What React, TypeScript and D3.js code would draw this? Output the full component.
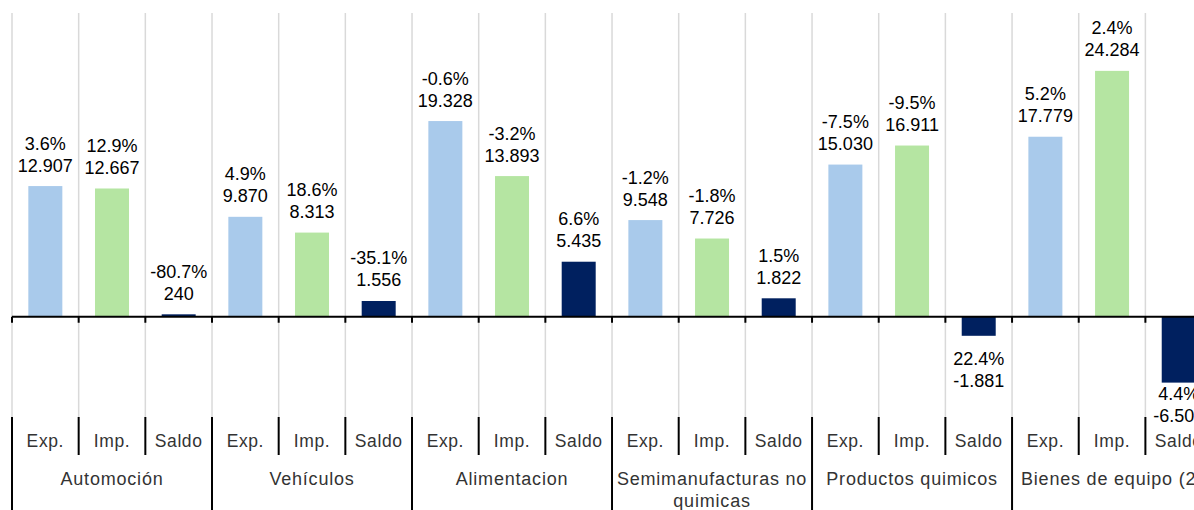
import * as d3 from 'd3';

const groups = [
    ['Automoción'],
    ['Vehículos'],
    ['Alimentacion'],
    ['Semimanufacturas no', 'quimicas'],
    ['Productos quimicos'],
    ['Bienes de equipo (2)'],
];
const subLabels = ['Exp.', 'Imp.', 'Saldo'];

const exportValues = [12907, 9870, 19328, 9548, 15030, 17779];
const importValues = [12667, 8313, 13893, 7726, 16911, 24284];
const saldoValues = [240, 1556, 5435, 1822, -1881, -6505];

const exportChange = [3.6, 4.9, -0.6, -1.2, -7.5, 5.2];
const importChange = [12.9, 18.6, -3.2, -1.8, -9.5, 2.4];
const saldoChange = [-80.7, -35.1, 6.6, 1.5, 22.4, 4.4];

const colors = ['#a9caeb', '#b5e5a2', '#00205f'];

const width = 1194;
const height = 510;
const left = 12;
const slotCount = groups.length * 3;
const slotWidth = 66.67;

const locale = d3.formatLocale({
    decimal: ',',
    thousands: '.',
    grouping: [3],
    currency: ['', '€'],
    minus: '-',
});
const fmtValue = locale.format(',d');

type Bar = { idx: number; value: number; change: number; series: number };

const bars: Bar[] = groups.flatMap((_, g) => [
    { idx: g * 3, value: exportValues[g], change: exportChange[g], series: 0 },
    { idx: g * 3 + 1, value: importValues[g], change: importChange[g], series: 1 },
    { idx: g * 3 + 2, value: saldoValues[g], change: saldoChange[g], series: 2 },
]);

export default function App() {
    const x = d3
        .scaleBand<number>()
        .domain(d3.range(slotCount))
        .range([left, left + slotWidth * slotCount])
        .padding(0);
    const y = d3.scaleLinear().domain([-10000, 30000]).range([418, 13]);
    const barW = x.bandwidth() * 0.51;
    const zero = y(0);
    const plotBottom = 418;

    const boundaries = d3.range(slotCount + 1).map((i) => left + i * x.bandwidth());
    const labelFont = "'Liberation Sans', Arial, sans-serif";

    return (
        <svg
            width={width}
            height={height}
            style={{ position: 'absolute', left: 0, top: 0, background: '#fff', overflow: 'hidden' }}
        >
            {/* grid */}
            {boundaries.map((bx, i) => (
                <line key={'g' + i} x1={bx} x2={bx} y1={13} y2={plotBottom} stroke="#d9d9d9" strokeWidth={1.5} />
            ))}

            {/* bars */}
            {bars.map((b) => {
                const cx = (x(b.idx) ?? 0) + x.bandwidth() / 2;
                const top = Math.min(y(b.value), zero);
                const h = Math.abs(y(b.value) - zero);
                return (
                    <rect
                        key={'b' + b.idx}
                        x={cx - barW / 2}
                        y={top}
                        width={barW}
                        height={Math.max(h, 1.5)}
                        fill={colors[b.series]}
                    />
                );
            })}

            {/* zero axis */}
            <line x1={left} x2={width + 20} y1={zero} y2={zero} stroke="#000" strokeWidth={2} />
            {boundaries.map((bx, i) => (
                <line key={'t' + i} x1={bx} x2={bx} y1={zero} y2={zero + 6} stroke="#000" strokeWidth={2} />
            ))}

            {/* data labels */}
            {bars.map((b) => {
                const cx = (x(b.idx) ?? 0) + x.bandwidth() / 2;
                let y1: number;
                let y2: number;
                if (b.value >= 0) {
                    y2 = y(b.value) - 14.5;
                    y1 = y2 - 22;
                } else {
                    y1 = y(b.value) + 29.5;
                    y2 = y1 + 22;
                    if (y2 > 421.5) {
                        y2 = 421.5;
                        y1 = y2 - 22;
                    }
                }
                return (
                    <g key={'l' + b.idx} fontFamily={labelFont} fontSize={18} fill="#000" textAnchor="middle">
                        <text x={cx} y={y1}>{b.change.toFixed(1) + '%'}</text>
                        <text x={cx} y={y2}>{fmtValue(b.value)}</text>
                    </g>
                );
            })}

            {/* category axis */}
            {boundaries.map((bx, i) => (
                <line
                    key={'s' + i}
                    x1={bx}
                    x2={bx}
                    y1={417}
                    y2={i % 3 === 0 ? height : 455}
                    stroke="#000"
                    strokeWidth={2}
                />
            ))}
            {d3.range(slotCount).map((i) => (
                <text
                    key={'sub' + i}
                    x={(x(i) ?? 0) + x.bandwidth() / 2}
                    y={447}
                    textAnchor="middle"
                    fontFamily={labelFont}
                    fontSize={17.5}
                    letterSpacing={0.6}
                    fill="#333"
                >
                    {subLabels[i % 3]}
                </text>
            ))}
            {groups.map((lines, g) => (
                <text
                    key={'grp' + g}
                    x={left + (g * 3 + 1.5) * x.bandwidth()}
                    y={485}
                    textAnchor="middle"
                    fontFamily={labelFont}
                    fontSize={18}
                    letterSpacing={0.8}
                    fill="#333"
                >
                    {lines.map((t, k) => (
                        <tspan key={k} x={left + (g * 3 + 1.5) * x.bandwidth()} dy={k === 0 ? 0 : 22}>
                            {t}
                        </tspan>
                    ))}
                </text>
            ))}
        </svg>
    );
}
